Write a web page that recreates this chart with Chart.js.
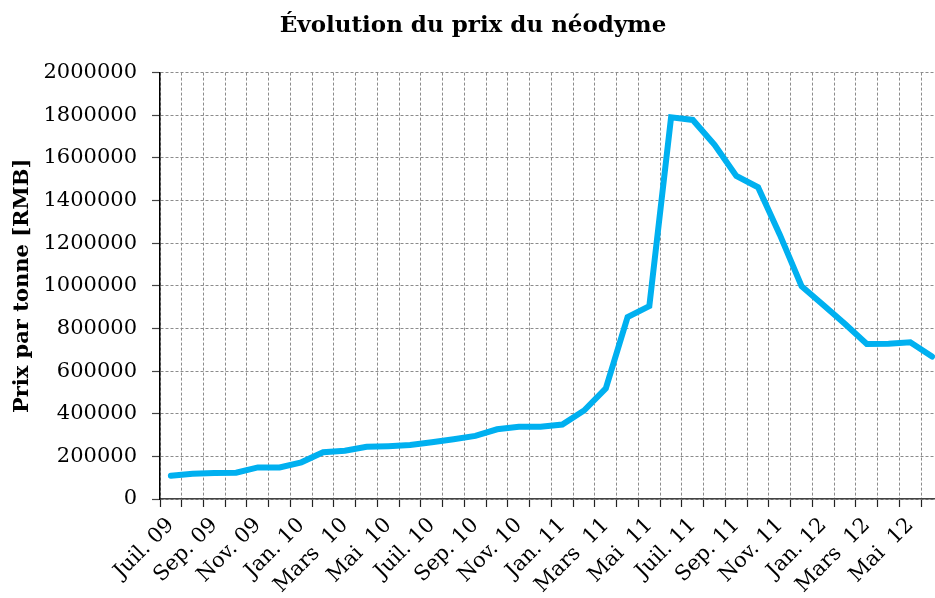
<!DOCTYPE html>
<html lang="fr">

<head>
  <meta charset="UTF-8">
  <title>Prix du néodyme</title>
  <script src="https://cdn.jsdelivr.net/npm/chart.js"></script>
  <style>
    html, body {
      margin: 0;
      padding: 0;
      overflow: hidden;
      background-color: #fff;
    }

    .chart-box {
      width: 956px;
      height: 598px;
    }
  </style>
</head>

<body>
  <div class="chart-box">
    <canvas id="neoChart"></canvas>
  </div>

  <script>
    // Monthly price, Juillet 2009 -> Juin 2012 (RMB per tonne)
    const months = [
      'Juil. 09', 'Août 09', 'Sep. 09', 'Oct. 09', 'Nov. 09', 'Déc. 09',
      'Jan. 10', 'Févr. 10', 'Mars  10', 'Avr. 10', 'Mai  10', 'Juin 10',
      'Juil. 10', 'Août 10', 'Sep. 10', 'Oct. 10', 'Nov. 10', 'Déc. 10',
      'Jan. 11', 'Févr. 11', 'Mars  11', 'Avr. 11', 'Mai  11', 'Juin 11',
      'Juil. 11', 'Août 11', 'Sep. 11', 'Oct. 11', 'Nov. 11', 'Déc. 11',
      'Jan. 12', 'Févr. 12', 'Mars  12', 'Avr. 12', 'Mai  12', 'Juin 12'
    ];

    const prices = [
      109000, 118000, 122000, 123000, 148000, 148000,
      172000, 219000, 226000, 245000, 248000, 253000,
      266000, 280000, 296000, 327000, 339000, 339000,
      349000, 415000, 519000, 853000, 905000, 1790000,
      1778000, 1661000, 1515000, 1462000, 1240000, 998000,
      910000, 821000, 727000, 728000, 735000, 668000
    ];

    const yTicks = [0, 200000, 400000, 600000, 800000, 1000000,
      1200000, 1400000, 1600000, 1800000, 2000000];

    const serif = "'DejaVu Serif', 'Liberation Serif', serif";
    const gridGrey = '#8c8c8c';

    const ctx = document.getElementById('neoChart').getContext('2d');

    const neoChart = new Chart(ctx, {
      type: 'line',
      data: {
        labels: months,
        datasets: [{
          label: 'Néodyme',
          data: prices,
          borderColor: '#00B0F0',
          borderWidth: 6,
          borderCapStyle: 'round',
          borderJoinStyle: 'miter',
          pointRadius: 0,
          tension: 0,
          fill: false
        }]
      },
      options: {
        responsive: true,
        maintainAspectRatio: false,
        animation: false,
        layout: {
          padding: { left: 0, right: 10, top: 0, bottom: 0 }
        },
        plugins: {
          legend: { display: false },
          tooltip: { enabled: false },
          title: {
            display: true,
            text: 'Évolution du prix du néodyme',
            color: '#000',
            font: { family: serif, size: 23, weight: 'bold' },
            padding: { top: 12, bottom: 33 }
          }
        },
        scales: {
          x: {
            offset: true,
            border: { display: true, color: '#444', width: 1.5, dash: [3, 2] },
            grid: {
              display: true,
              drawOnChartArea: true,
              offset: true,
              color: gridGrey,
              lineWidth: 1,
              tickColor: '#222',
              tickLength: 8,
              tickWidth: 1.2,
              tickBorderDash: []
            },
            ticks: {
              autoSkip: false,
              maxRotation: 45,
              minRotation: 45,
              padding: 6,
              color: '#000',
              font: { family: serif, size: 21 },
              callback: (value, index) => (index % 2 === 0 ? months[index] : '')
            },
            afterFit: (scale) => { scale.height = 99; }
          },
          y: {
            min: 0,
            max: 2000000,
            border: { display: true, color: '#000', width: 1.5, dash: [3, 2] },
            grid: {
              display: true,
              drawOnChartArea: true,
              color: gridGrey,
              lineWidth: 1,
              tickColor: '#444',
              tickLength: 8,
              tickWidth: 1.2,
              tickBorderDash: []
            },
            afterBuildTicks: (scale) => {
              scale.ticks = yTicks.map(v => ({ value: v }));
            },
            ticks: {
              padding: 15,
              color: '#000',
              font: { family: serif, size: 21 },
              callback: (value) => String(value)
            },
            title: {
              display: true,
              text: 'Prix par tonne [RMB]',
              color: '#000',
              font: { family: serif, size: 21, weight: 'bold' },
              padding: { top: 10, bottom: 0 }
            },
            afterFit: (scale) => { scale.width = 160; }
          }
        }
      }
    });
  </script>
</body>

</html>
